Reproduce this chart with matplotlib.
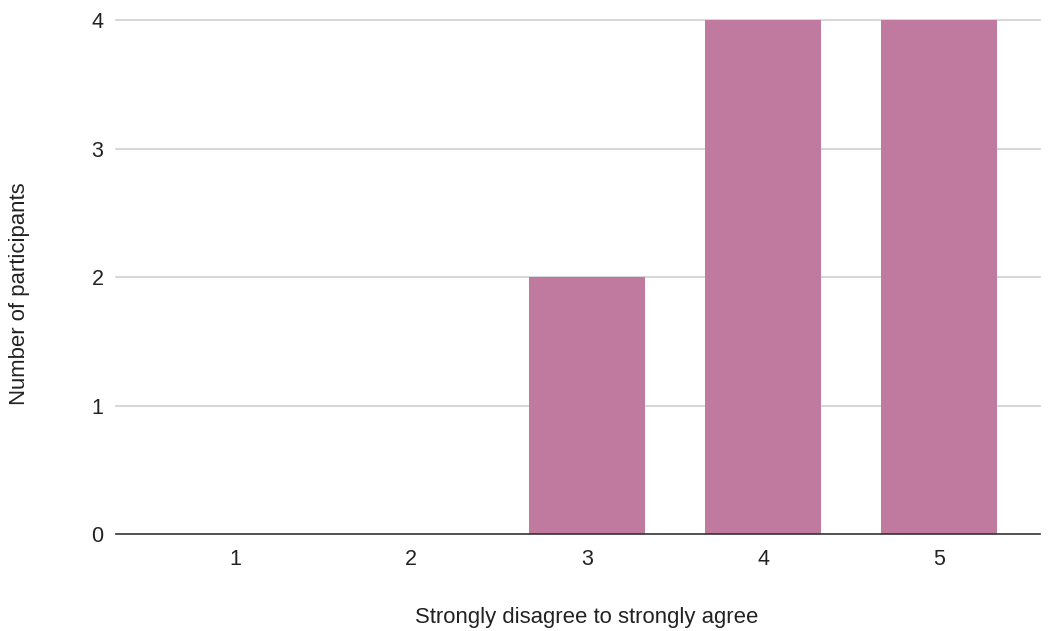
import matplotlib

matplotlib.use("Agg")
import matplotlib.pyplot as plt

# Likert responses (1 = strongly disagree, 5 = strongly agree)
categories = ["1", "2", "3", "4", "5"]
counts = [0, 0, 2, 4, 4]
y_ticks = [0, 1, 2, 3, 4]

BAR_COLOR = "#c0799f"
GRID = "#d0d0d0"
AXIS = "#333333"
INK = "#222222"
TICK_SIZE = 15.5
TITLE_SIZE = 15.9

plt.rcParams["font.family"] = ["Liberation Sans", "DejaVu Sans"]

fig = plt.figure(figsize=(10.49, 6.31), dpi=100)
ax = fig.add_axes([0.1106, 0.1537, 0.8804, 0.8146])

positions = range(1, len(categories) + 1)
ax.bar(positions, counts, width=0.66, color=BAR_COLOR, zorder=3)

ax.set_xlim(0.325, 5.57)
ax.set_ylim(0, 4)
ax.set_xticks(list(positions))
ax.set_xticklabels(categories)
ax.set_yticks(y_ticks)

for y in y_ticks[1:]:
    ax.axhline(y, color=GRID, linewidth=1.2, zorder=1, clip_on=False)
ax.axhline(0, color=AXIS, linewidth=1.2, zorder=4, clip_on=False)

for spine in ax.spines.values():
    spine.set_visible(False)
ax.tick_params(length=0, labelsize=TICK_SIZE, colors=INK)
ax.tick_params(axis="x", pad=11)
ax.tick_params(axis="y", pad=9)

# Axis titles placed in figure coordinates
fig.text(587 / 1049, 1 - 617 / 631, "Strongly disagree to strongly agree",
         fontsize=TITLE_SIZE, color=INK, ha="center", va="center")
fig.text(20 / 1049, 1 - 294 / 631, "Number of participants",
         fontsize=TITLE_SIZE, color=INK, ha="center", va="center",
         rotation=90)

fig.savefig("out.png", dpi=100, facecolor="white")
